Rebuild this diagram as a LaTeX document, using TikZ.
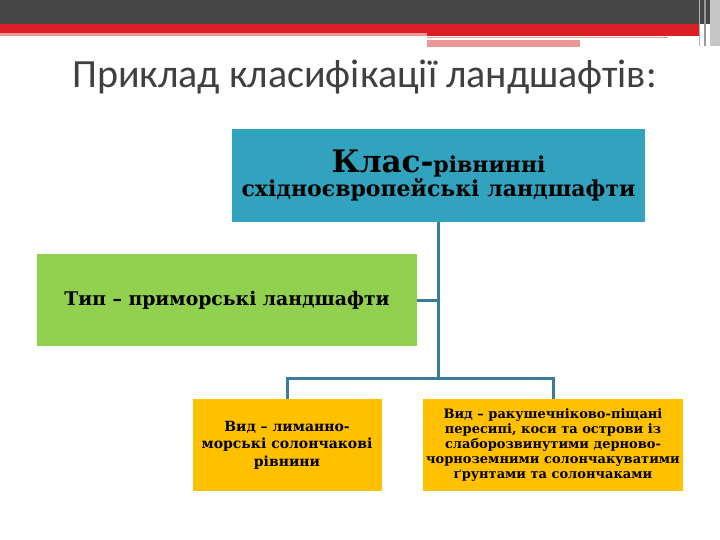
\documentclass[tikz,border=0pt]{standalone}
\usepackage{fontspec}
\setmainfont{DejaVu Serif}
\newfontfamily\titlefont{Carlito}
\usetikzlibrary{positioning}
\definecolor{slidedark}{RGB}{71,71,71}
\definecolor{slidered}{RGB}{218,30,36}
\definecolor{slidepink}{RGB}{236,150,150}
\definecolor{titlegray}{RGB}{64,64,64}
\definecolor{classteal}{RGB}{49,163,191}
\definecolor{typegreen}{RGB}{146,208,80}
\definecolor{vidgold}{RGB}{255,192,0}
\definecolor{linkblue}{RGB}{58,125,155}
\tikzset{
    classbox/.style={rectangle, fill=classteal, minimum width=413, minimum height=93,
                     inner sep=0pt, align=center, font=\bfseries},
    typebox/.style={rectangle, fill=typegreen, minimum width=380, minimum height=92,
                    inner sep=0pt, align=center, font=\bfseries\fontsize{18.8}{22}\selectfont},
    vidbox/.style={rectangle, fill=vidgold, minimum height=92,
                   inner sep=0pt, align=center, font=\bfseries},
    link/.style={draw=linkblue, line width=3pt},
}

\begin{document}
\begin{tikzpicture}[x=1pt, y=-1pt]
    \useasboundingbox (0,0) rectangle (720,540);
    % slide header
    \fill[slidedark] (0,0) rectangle (720,24);
    \fill[slidered] (0,24) rectangle (700,33);
    \fill[slidered] (427,33) rectangle (700,36);
    \fill[slidepink] (0,33) rectangle (427,36);
    \draw[slidepink, line width=1pt] (427,38) -- (668,38);
    \fill[slidepink] (427,40) rectangle (580,47);
    \fill[gray!45] (710,0) rectangle (720,46);
    \draw[gray!60, line width=1pt] (699,0) -- (699,46);
    \draw[gray!80, line width=1.5pt] (705,0) -- (705,46);
    \node[anchor=base west, text=titlegray, inner sep=0pt,
          font=\titlefont\fontsize{40}{44}\selectfont] (title) at (72,88)
          {Приклад класифікації ландшафтів:};

    \node[classbox] (class) at (438.5,175.5)
        {{\fontsize{31}{34}\selectfont Клас-}{\fontsize{22}{26}\selectfont рівнинні}\\[1pt]
         {\fontsize{22}{26}\selectfont східноєвропейські ландшафти}};
    \node[typebox] (type) at (227,300) {Тип – приморські ландшафти};
    \node[vidbox, minimum width=189, font=\bfseries\fontsize{14}{17.5}\selectfont] (vidA) at (287,445)
        {Вид – лиманно-\\морські солончакові\\рівнини};
    \node[vidbox, minimum width=260, font=\bfseries\fontsize{13}{14.8}\selectfont] (vidB) at (553,445)
        {Вид – ракушечніково-піщані\\пересипі, коси та острови із\\слаборозвинутими дерново-\\чорноземними солончакуватими\\ґрунтами та солончаками};

    \coordinate (split) at (438.5,378);
    \draw[link] (class.south) -- (split);
    \draw[link] (type.east) -- (type.east -| class.south);
    \draw[link] (vidA.north) |- (split) -| (vidB.north);
\end{tikzpicture}
\end{document}
